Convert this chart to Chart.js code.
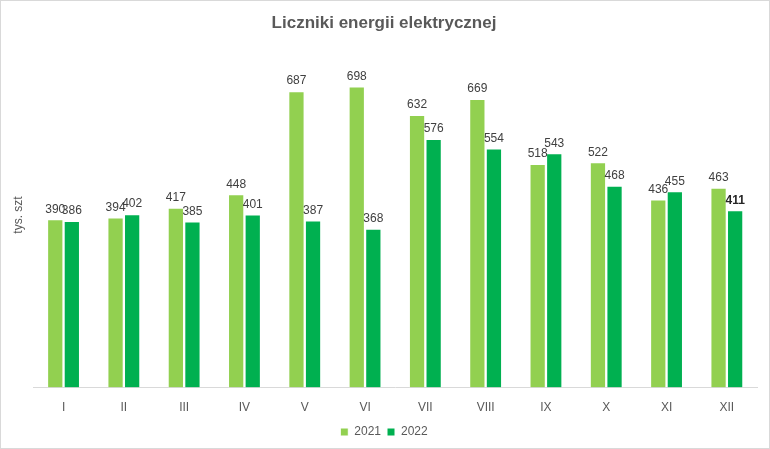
<!DOCTYPE html>
<html>
<head>
<meta charset="utf-8">
<script src="https://cdn.jsdelivr.net/npm/chart.js@4"></script>
<style>
  html, body { margin: 0; padding: 0; background: #fff; }
  #wrap { width: 768px; height: 447px; border: 1px solid #d9d9d9; }
</style>
</head>
<body>
<div id="wrap"><canvas id="chart"></canvas></div>
<script>
const months = ["I", "II", "III", "IV", "V", "VI", "VII", "VIII", "IX", "X", "XI", "XII"];
const values2021 = [390, 394, 417, 448, 687, 698, 632, 669, 518, 522, 436, 463];
const values2022 = [386, 402, 385, 401, 387, 368, 576, 554, 543, 468, 455, 411];

const fontFamily = "'Liberation Sans Narrow', 'Arial Narrow', 'Liberation Sans', Arial, sans-serif";

// labels above the bars
const barLabels = {
    id: "barLabels",
    afterDatasetsDraw(chart) {
        const ctx = chart.ctx;
        ctx.save();
        ctx.textAlign = "center";
        ctx.textBaseline = "bottom";
        chart.data.datasets.forEach((ds, i) => {
            const meta = chart.getDatasetMeta(i);
            meta.data.forEach((bar, j) => {
                const bold = (i === 1 && j === 11);
                ctx.font = (bold ? "bold " : "") + "12px " + fontFamily;
                ctx.fillStyle = bold ? "#262626" : "#404040";
                ctx.fillText(ds.data[j], bar.x, bar.y - 4);
            });
        });
        ctx.restore();
    }
};

new Chart(document.getElementById("chart").getContext("2d"), {
    type: "bar",
    data: {
        labels: months,
        datasets: [
            {
                label: "2021",
                data: values2021,
                backgroundColor: "#92d050",
                borderColor: "#ffffff",
                borderWidth: 1,
                categoryPercentage: 0.55,
                barPercentage: 0.98
            },
            {
                label: "2022",
                data: values2022,
                backgroundColor: "#00b050",
                borderColor: "#ffffff",
                borderWidth: 1,
                categoryPercentage: 0.55,
                barPercentage: 0.98
            }
        ]
    },
    options: {
        responsive: true,
        maintainAspectRatio: false,
        animation: false,
        layout: { padding: { left: 10, right: 12, top: 0, bottom: 0 } },
        plugins: {
            title: {
                display: true,
                text: "Liczniki energii elektrycznej",
                color: "#595959",
                font: { family: fontFamily, size: 17, weight: "bold" },
                padding: { top: 12, bottom: 9 }
            },
            legend: {
                position: "bottom",
                labels: {
                    color: "#595959",
                    boxWidth: 8,
                    boxHeight: 8,
                    padding: 6,
                    font: { family: fontFamily, size: 12 }
                }
            },
            tooltip: { enabled: false }
        },
        scales: {
            x: {
                grid: { display: false },
                border: { color: "#d9d9d9" },
                ticks: { color: "#595959", font: { family: fontFamily, size: 12 }, padding: 5 }
            },
            y: {
                min: 0,
                max: 800,
                grid: { display: false },
                border: { display: false },
                ticks: { display: false },
                title: {
                    display: true,
                    text: "tys. szt",
                    color: "#595959",
                    font: { family: fontFamily, size: 12 },
                    padding: { top: 0, bottom: 0 }
                }
            }
        }
    },
    plugins: [barLabels]
});
</script>
</body>
</html>
